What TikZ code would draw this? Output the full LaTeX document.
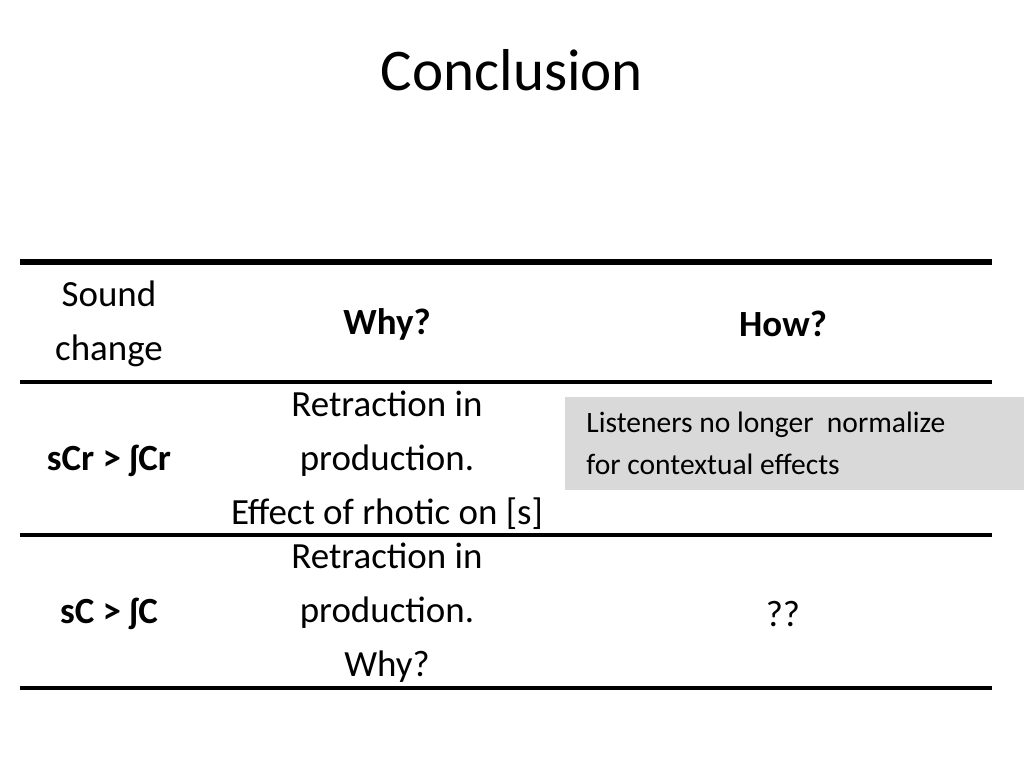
\documentclass[tikz,border=0pt]{standalone}
\usepackage{fontspec}
\setmainfont{Carlito}
\usetikzlibrary{positioning}
\begin{document}
\begin{tikzpicture}[x=0.01cm,y=-0.01cm,
  body/.style={font=\fontsize{10.5pt}{15.4pt}\selectfont, align=center},
  rule/.style={line width=1.1pt}]
\useasboundingbox (0,0) rectangle (1024,768);
\node[font=\fontsize{16.8pt}{20pt}\selectfont](title) at (512,70){Conclusion};
% table rules
\draw[rule, line width=1.5pt] (20,262) -- (992,262);
\draw[rule] (20,382) -- (992,382);
\draw[rule] (20,535) -- (992,535);
\draw[rule] (20,688) -- (992,688);
% header
\node[body](hsound) at (109,324){Sound\\change};
\node[body, font=\fontsize{10.5pt}{15.4pt}\selectfont\bfseries](hwhy) at (387,324){Why?};
\node[body, font=\fontsize{10.5pt}{15.4pt}\selectfont\bfseries](hhow) at (783,324){How?};
% row 1
\node[body, font=\fontsize{10.5pt}{15.4pt}\selectfont\bfseries](c1) at (109,461){sCr > ʃCr};
\node[body](why1) at (387,460){Retraction in\\production.\\Effect of rhotic on [s]};
\fill[gray!30](565,397) rectangle (1024,490);
\node[align=left, anchor=west, font=\fontsize{8.4pt}{12pt}\selectfont](how1) at (574,443){Listeners no longer\ \ normalize\\for contextual effects};
% row 2
\node[body, font=\fontsize{10.5pt}{15.4pt}\selectfont\bfseries](c2) at (109,614){sC > ʃC};
\node[body](why2) at (387,613){Retraction in\\production.\\Why?};
\node[body](how2) at (783,614){??};
\end{tikzpicture}
\end{document}
